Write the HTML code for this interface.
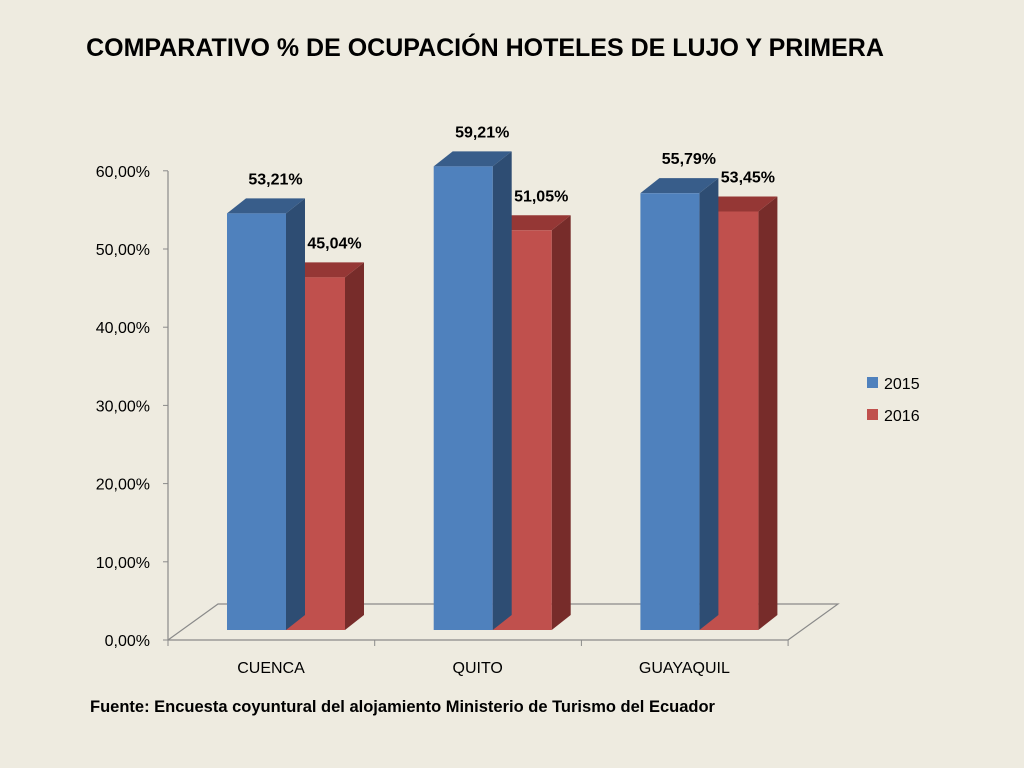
<!DOCTYPE html>
<html><head><meta charset="utf-8"><style>
body{margin:0;background:#EEEBE0;}
svg{display:block;font-family:"Liberation Sans",Calibri,sans-serif;}
</style></head><body>
<svg id="c" width="1024" height="768" viewBox="0 0 1024 768">
<rect width="1024" height="768" fill="#EEEBE0"/>
<text x="485" y="56" text-anchor="middle" font-size="25" font-weight="bold" fill="#000">COMPARATIVO % DE OCUPACIÓN HOTELES DE LUJO Y PRIMERA</text>
<text x="90" y="712" font-size="16.5" font-weight="bold" fill="#000">Fuente: Encuesta coyuntural del alojamiento Ministerio de Turismo  del Ecuador</text>
<g id="axes"></g><g id="bars"></g>
<g>
<rect x="867" y="377" width="11" height="11" fill="#4F81BD"/>
<text x="884" y="389" font-size="16">2015</text>
<rect x="867" y="409" width="11" height="11" fill="#C0504D"/>
<text x="884" y="421" font-size="16">2016</text>
</g>
</svg>
<script>
const categories=["CUENCA","QUITO","GUAYAQUIL"];
const values2015=[53.21,59.21,55.79];
const values2016=[45.04,51.05,53.45];
const tickValues=[0,10,20,30,40,50,60];
const NS="http://www.w3.org/2000/svg";
function mk(p,t,a){const e=document.createElementNS(NS,t);for(const k in a)e.setAttribute(k,a[k]);p.appendChild(e);return e;}
const axY=v=>640-v*7.82;     // axis tick scale
const barY=v=>630-v*7.83;    // front-face scale
const catX=i=>168+i*206.7;
const ax=document.getElementById('axes'),bg=document.getElementById('bars');
const line=mk(ax,'path',{d:'M168,171 V640 H788 L838,604 H218 L168,640',fill:'none',stroke:'#8a8a8a','stroke-width':1.2});

tickValues.forEach(v=>{
 const t=mk(ax,'line',{x1:163,x2:168,y1:axY(v),y2:axY(v),stroke:'#8a8a8a'});
 
 const l=mk(ax,'text',{x:150,y:axY(v)+6,'text-anchor':'end','font-size':16});
 l.textContent=v.toFixed(2).replace('.',',')+'%';
 
});
for(let i=0;i<=3;i++){const t=mk(ax,'line',{x1:catX(i),x2:catX(i),y1:640,y2:646,stroke:'#8a8a8a'});
 }
categories.forEach((c,i)=>{const l=mk(ax,'text',{x:catX(i)+103,y:673,'text-anchor':'middle','font-size':16});
 l.textContent=c;});
const dx=19,dy=-15,w=59;
function bar(x,v,cf,ct,cs,name){
 const g=mk(bg,'g',{});
 const y=barY(v),b=630;
 mk(g,'polygon',{points:`${x+w},${y} ${x+w+dx},${y+dy} ${x+w+dx},${b+dy} ${x+w},${b}`,fill:cs});
 mk(g,'polygon',{points:`${x},${y} ${x+dx},${y+dy} ${x+w+dx},${y+dy} ${x+w},${y}`,fill:ct});
 mk(g,'rect',{x:x,y:y,width:w,height:b-y,fill:cf});
 const l=mk(g,'text',{x:x+w/2+dx+0,y:y+dy-14,'text-anchor':'middle','font-size':16,'font-weight':'bold'});
 l.textContent=v.toFixed(2).replace('.',',')+'%';
}
categories.forEach((c,i)=>{
 const x0=catX(i)+59;
 bar(x0+w,values2016[i],'#C0504D','#953735','#772C2A','bar-2016-'+c.toLowerCase());
 bar(x0,values2015[i],'#4F81BD','#385D8A','#2E4D73','bar-2015-'+c.toLowerCase());
});
</script>
</body></html>
